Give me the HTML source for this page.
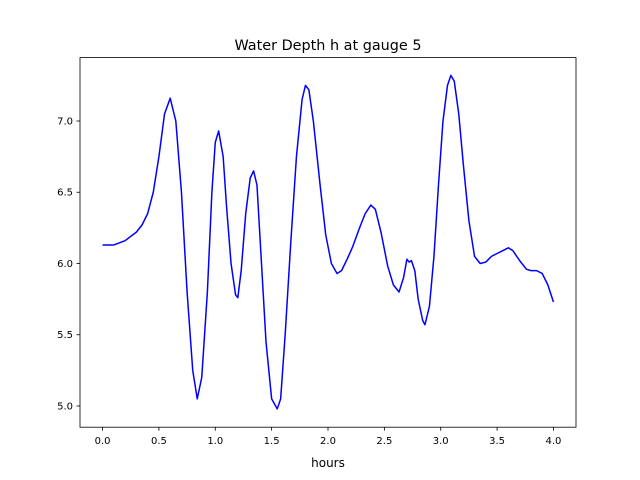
<!DOCTYPE html>
<html>
<head>
<meta charset="utf-8">
<style>
  html, body { margin: 0; padding: 0; background: #ffffff; }
  svg { display: block; font-family: "DejaVu Sans", "Liberation Sans", sans-serif; }
</style>
</head>
<body>
<svg id="chart" width="640" height="480" viewBox="0 0 640 480" xmlns="http://www.w3.org/2000/svg">
  <rect x="0" y="0" width="640" height="480" fill="#ffffff"/>
  <text x="328" y="50" text-anchor="middle" font-size="14.4" fill="#000">Water Depth h at gauge 5</text>
  <g id="xticks"></g>
  <g id="yticks"></g>
  <g id="series"></g>
  <rect x="80" y="57.6" width="496" height="369.6" fill="none" stroke="#000" stroke-width="0.8"/>
  <text x="328" y="467" text-anchor="middle" font-size="12" fill="#000">hours</text>
</svg>
<script>
const times = [0,0.1,0.2,0.3,0.35,0.4,0.45,0.5,0.55,0.6,0.65,0.7,0.75,0.8,0.84,0.88,0.93,0.97,1.0,1.03,1.07,1.1,1.14,1.18,1.2,1.23,1.27,1.31,1.34,1.37,1.41,1.45,1.5,1.55,1.58,1.62,1.67,1.72,1.77,1.8,1.83,1.87,1.93,1.98,2.03,2.08,2.12,2.17,2.22,2.28,2.33,2.38,2.42,2.47,2.53,2.58,2.63,2.67,2.7,2.72,2.74,2.77,2.8,2.84,2.86,2.9,2.94,2.98,3.02,3.06,3.09,3.12,3.16,3.2,3.25,3.3,3.35,3.4,3.45,3.5,3.55,3.6,3.64,3.7,3.76,3.8,3.85,3.9,3.95,4.0];
const depths = [6.13,6.13,6.16,6.22,6.27,6.35,6.5,6.75,7.05,7.16,7.0,6.5,5.8,5.25,5.05,5.2,5.8,6.5,6.85,6.93,6.75,6.4,6.0,5.78,5.76,5.95,6.35,6.6,6.65,6.55,6.0,5.45,5.05,4.98,5.05,5.5,6.15,6.75,7.15,7.25,7.22,7.0,6.55,6.2,6.0,5.93,5.95,6.03,6.12,6.25,6.35,6.41,6.38,6.22,5.98,5.85,5.8,5.9,6.03,6.01,6.02,5.95,5.75,5.6,5.57,5.7,6.05,6.55,7.0,7.25,7.32,7.28,7.05,6.7,6.3,6.05,6.0,6.01,6.05,6.07,6.09,6.11,6.09,6.02,5.96,5.95,5.95,5.93,5.85,5.73];
const xTickLabels = ["0.0","0.5","1.0","1.5","2.0","2.5","3.0","3.5","4.0"];
const yTickLabels = ["5.0","5.5","6.0","6.5","7.0"];

const NS = "http://www.w3.org/2000/svg";
const X0 = 80, X1 = 576, Y0 = 57.6, Y1 = 427.2;
const xMin = -0.2, xMax = 4.2, yMin = 4.851, yMax = 7.445;
function xs(v) { return X0 + (v - xMin) / (xMax - xMin) * (X1 - X0); }
function ys(v) { return Y1 - (v - yMin) / (yMax - yMin) * (Y1 - Y0); }

const xg = document.getElementById('xticks');
xTickLabels.forEach(function (lab) {
  const v = parseFloat(lab), x = xs(v);
  const l = document.createElementNS(NS, 'line');
  l.setAttribute('x1', x); l.setAttribute('x2', x);
  l.setAttribute('y1', Y1); l.setAttribute('y2', Y1 + 3.5);
  l.setAttribute('stroke', '#000'); l.setAttribute('stroke-width', '0.8');
  
  
  xg.appendChild(l);
  const t = document.createElementNS(NS, 'text');
  t.setAttribute('x', x); t.setAttribute('y', Y1 + 17);
  t.setAttribute('text-anchor', 'middle'); t.setAttribute('font-size', '10');
  t.textContent = lab;
  
  
  xg.appendChild(t);
});

const yg = document.getElementById('yticks');
yTickLabels.forEach(function (lab) {
  const v = parseFloat(lab), y = ys(v);
  const l = document.createElementNS(NS, 'line');
  l.setAttribute('x1', X0 - 3.5); l.setAttribute('x2', X0);
  l.setAttribute('y1', y); l.setAttribute('y2', y);
  l.setAttribute('stroke', '#000'); l.setAttribute('stroke-width', '0.8');
  
  
  yg.appendChild(l);
  const t = document.createElementNS(NS, 'text');
  t.setAttribute('x', X0 - 7); t.setAttribute('y', y + 3.5);
  t.setAttribute('text-anchor', 'end'); t.setAttribute('font-size', '10');
  t.textContent = lab;
  
  
  yg.appendChild(t);
});

const pts = times.map(function (t, i) { return xs(t).toFixed(2) + ',' + ys(depths[i]).toFixed(2); }).join(' ');
const pl = document.createElementNS(NS, 'polyline');
pl.setAttribute('points', pts);
pl.setAttribute('fill', 'none');
pl.setAttribute('stroke', '#0000ff');
pl.setAttribute('stroke-width', '1.5');
pl.setAttribute('stroke-linejoin', 'round');


document.getElementById('series').appendChild(pl);
</script>
</body>
</html>
